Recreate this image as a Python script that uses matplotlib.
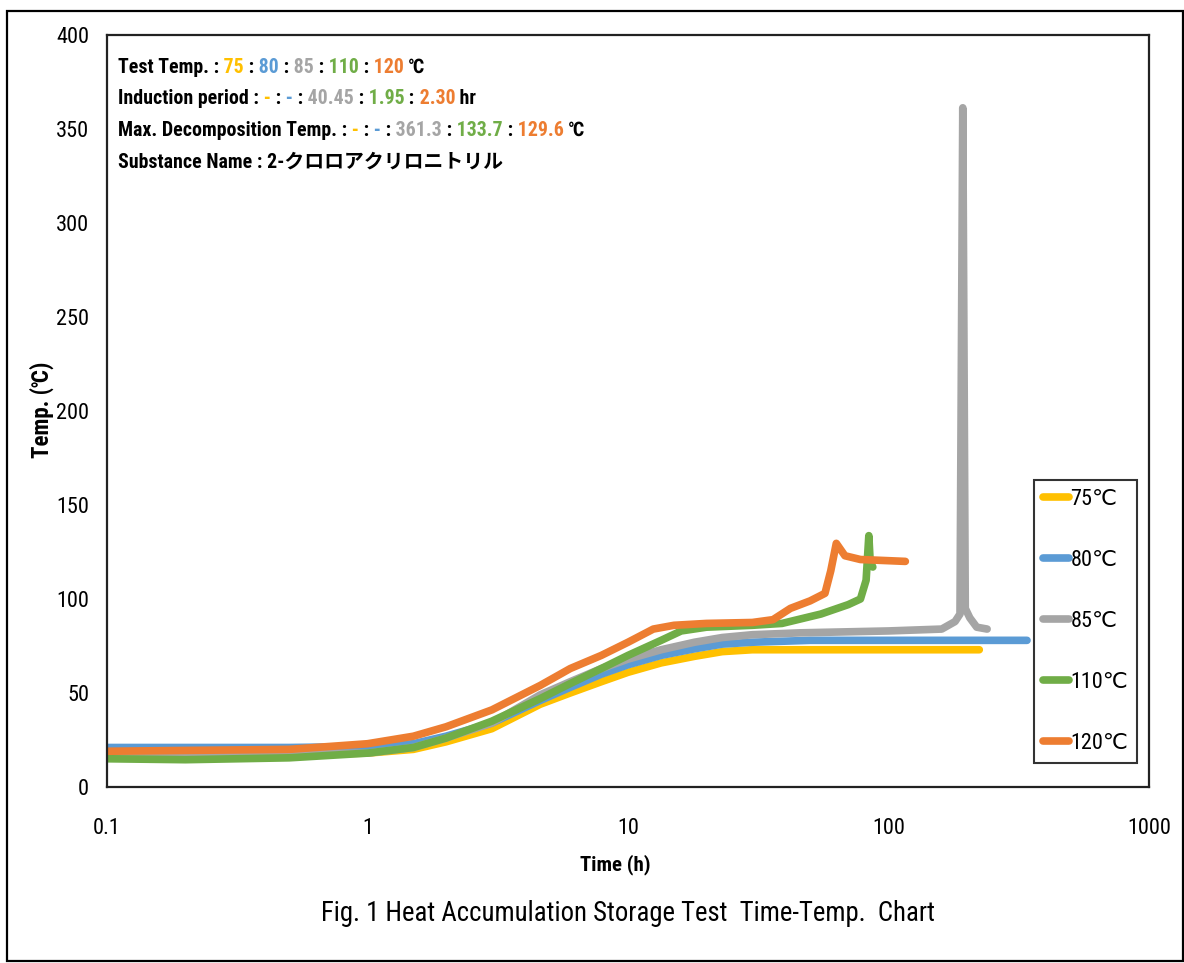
import matplotlib

matplotlib.use("Agg")
import matplotlib.font_manager as fm
import matplotlib.pyplot as plt
from matplotlib.patches import Rectangle

installed = {f.name for f in fm.fontManager.ttflist}
base_font = next(
    name
    for name in ["Liberation Sans Narrow", "Arial Narrow", "Roboto Condensed",
                 "Liberation Sans", "DejaVu Sans"]
    if name in installed
)
plt.rcParams["font.family"] = [base_font, "DejaVu Sans", "Noto Sans CJK JP"]

# Heat accumulation storage test readings (time in h, temperature in degC)
T75 = [0.1, 0.3, 1.0, 1.5, 2.0, 3.0, 4.6, 6.0, 7.9, 10, 13.4, 18, 23, 30, 50, 100, 223]
Y75 = [17, 17, 18, 20, 24, 31, 44, 50, 56, 61, 66, 69.5, 72, 73, 73, 73, 73]

T80 = [0.1, 0.5, 1.0, 1.5, 2.0, 3.0, 4.6, 6.0, 7.9, 10, 13.4, 18, 23, 30, 50, 100, 340]
Y80 = [21, 21, 21.5, 23, 27, 34, 46, 53, 60, 65, 70, 73.5, 76, 77, 78, 78, 78]

T85 = [0.1, 1.0, 1.5, 2.0, 3.0, 4.6, 6.0, 7.9, 10, 13.4, 18, 23, 30, 46, 100, 160,
       180, 188, 192.7, 197, 205, 218, 239]
Y85 = [17, 18, 21, 26, 34, 49, 56, 63, 68, 73, 77, 79.5, 81, 82, 83, 84,
       88, 92, 361.3, 95, 90, 85, 84]

T110 = [0.1, 0.2, 0.5, 1.0, 1.5, 2.0, 3.0, 4.6, 6.0, 7.9, 10, 13.4, 16, 20, 30, 39,
        55, 70, 78, 82, 84, 85, 87]
Y110 = [15, 14.5, 15.5, 18, 21, 26, 35, 47, 55, 63, 70, 78, 83, 85, 86, 87,
        92, 97, 100, 110, 133.7, 120, 117]

T120 = [0.1, 0.5, 1.0, 1.5, 2.0, 3.0, 4.6, 6.0, 7.9, 10, 12.5, 15, 20, 30, 36, 42,
        50, 57, 60, 63, 68, 78, 116]
Y120 = [19, 20, 23, 27, 32, 41, 54, 63, 70, 77, 84, 86, 87, 87.5, 89, 95,
        99, 103, 115, 129.6, 123, 121, 120]

LABELS = ["75℃", "80℃", "85℃", "110℃", "120℃"]
COLORS = ["#FFC000", "#5B9BD5", "#A5A5A5", "#70AD47", "#ED7D31"]
SERIES = [(T75, Y75), (T80, Y80), (T85, Y85), (T110, Y110), (T120, Y120)]

X_TICKS = [0.1, 1, 10, 100, 1000]
X_TICK_LABELS = ["0.1", "1", "10", "100", "1000"]
Y_TICKS = list(range(0, 401, 50))

TEST_TEMPS = ["75", "80", "85", "110", "120"]
INDUCTION = ["-", "-", "40.45", "1.95", "2.30"]
MAX_TEMPS = ["-", "-", "361.3", "133.7", "129.6"]
SUBSTANCE = "2-クロロアクリロニトリル"


def colored_line(ax, x, y, head, values, tail, size):
    style = dict(fontsize=size, fontweight="bold")
    prev = ax.text(x, y, head, transform=ax.transAxes, va="center", ha="left",
                   color="black", **style)
    parts = []
    for i, (val, color) in enumerate(zip(values, COLORS)):
        if i > 0:
            parts.append((" :", "black"))
        parts.append((" " + val, color))
    parts.append((" " + tail, "black"))
    for text, color in parts:
        prev = ax.annotate(text, xy=(1, 0), xycoords=prev, xytext=(0, 0),
                           textcoords="offset points", va="bottom", ha="left",
                           color=color, **style)


fig = plt.figure(figsize=(11.84, 9.63), dpi=100)
ax = fig.add_axes([0.0904, 0.1828, 0.8801, 0.7808])

for (t, y), label, color in zip(SERIES, LABELS, COLORS):
    ax.plot(t, y, color=color, lw=5.5, label=label, solid_joinstyle="round",
            solid_capstyle="round")

ax.set_xscale("log")
ax.set_xlim(0.1, 1000)
ax.set_ylim(0, 400)
ax.set_xticks(X_TICKS, X_TICK_LABELS)
ax.minorticks_off()
ax.set_yticks(Y_TICKS)
ax.tick_params(axis="both", length=0, labelsize=16)
ax.tick_params(axis="x", pad=22)
ax.tick_params(axis="y", pad=13)
for spine in ax.spines.values():
    spine.set_linewidth(1.6)
    spine.set_color("#222222")

ax.set_xlabel("Time (h)", fontsize=15, fontweight="bold")
ax.set_ylabel("Temp. (℃)", fontsize=16.5, fontweight="bold")
ax.xaxis.set_label_coords(0.4875, -0.1037)
ax.yaxis.set_label_coords(-0.0624, 0.501)
ax.xaxis.label.set_va("center")
ax.yaxis.label.set_va("center")

size = 14.3
colored_line(ax, 0.0106, 0.957, "Test Temp. :", TEST_TEMPS, "℃", size)
colored_line(ax, 0.0106, 0.915, "Induction period :", INDUCTION, "hr", size)
colored_line(ax, 0.0106, 0.873, "Max. Decomposition Temp. :", MAX_TEMPS, "℃", size)
ax.text(0.0106, 0.831, "Substance Name : " + SUBSTANCE, transform=ax.transAxes,
        va="center", ha="left", fontsize=size, fontweight="bold")

leg = ax.legend(loc="lower right", bbox_to_anchor=(0.9885, 0.032), borderaxespad=0,
                fontsize=16, frameon=True, fancybox=False, edgecolor="black",
                handlelength=1.2, handletextpad=0.05, labelspacing=1.8,
                borderpad=0.4)
leg.get_frame().set_linewidth(1.5)

fig.text(0.530, 0.0519, "Fig. 1 Heat Accumulation Storage Test  Time-Temp.  Chart",
         ha="center", va="center", fontsize=19.3)

fig.patches.append(Rectangle((0.006, 0.002), 0.993, 0.987, transform=fig.transFigure,
                             fill=False, edgecolor="black", linewidth=1.6))

fig.savefig("out.png", dpi=100)
